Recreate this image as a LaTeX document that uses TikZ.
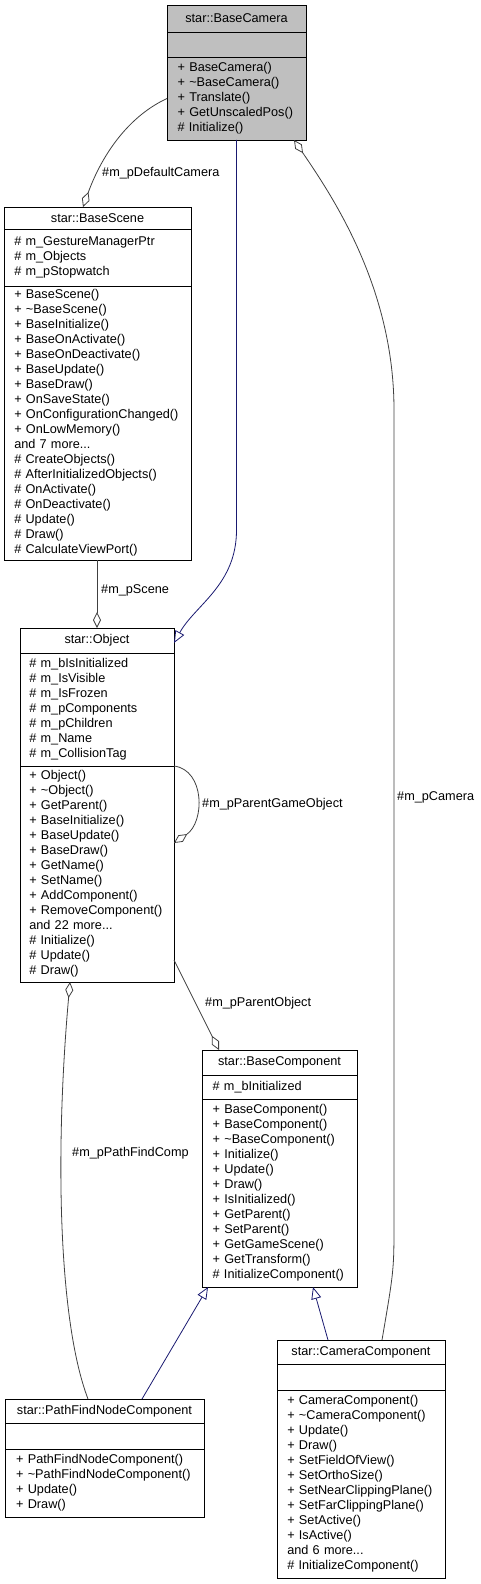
\documentclass[tikz,border=0pt]{standalone}
\usepackage{fontspec}
\setmainfont{Liberation Sans}
\usetikzlibrary{arrows.meta}
\definecolor{edgegrey}{HTML}{404040}
\definecolor{inhblue}{HTML}{191970}
\definecolor{boxgrey}{HTML}{BFBFBF}
\newcommand{\umlfont}{\fontsize{12.7}{15}\selectfont}
\newcommand{\tld}{\textasciitilde}
\newlength{\tmpw}
\newlength{\wBCam}\newlength{\wBS}\newlength{\wObj}\newlength{\wBCo}\newlength{\wPF}\newlength{\wCC}
\newcommand{\maxw}[2]{\settowidth{\tmpw}{\umlfont #2}\addtolength{\tmpw}{3pt}\ifdim\tmpw>#1\relax\global#1=\tmpw\relax\fi}
\begin{document}
\maxw{\wBCam}{+ GetUnscaledPos()}\maxw{\wBCam}{+ \tld BaseCamera()}%
\maxw{\wBS}{+ OnConfigurationChanged()}\maxw{\wBS}{\# AfterInitializedObjects()}\maxw{\wBS}{\# m\_GestureManagerPtr}%
\maxw{\wObj}{+ RemoveComponent()}\maxw{\wObj}{\# m\_bIsInitialized}\maxw{\wObj}{\# m\_CollisionTag}%
\maxw{\wBCo}{+ \tld BaseComponent()}\maxw{\wBCo}{\# InitializeComponent()}%
\maxw{\wPF}{+ \tld PathFindNodeComponent()}%
\maxw{\wCC}{+ SetNearClippingPlane()}\maxw{\wCC}{+ \tld CameraComponent()}\maxw{\wCC}{\# InitializeComponent()}%
\begin{tikzpicture}[x=1pt,y=-1pt,
  sec/.style={draw=black, line width=0.9pt, anchor=north west, inner sep=0pt, font=\umlfont, align=left, outer sep=0pt, minimum width=#1},
  ttl/.style={sec=#1, align=center},
  agg/.style={draw=edgegrey, line width=0.8pt, {Diamond[fill=white, length=16pt, width=8pt]}-},
  inh/.style={draw=inhblue, line width=0.8pt, -{Triangle[open, length=12pt, width=10pt]}},
  lbl/.style={font=\umlfont, anchor=west, inner sep=0pt}]
\useasboundingbox (0,0) rectangle (481,1584);
% BaseCamera
\node[ttl=139pt, fill=boxgrey, minimum height=27pt] (bcamT) at (167,5) {star::BaseCamera};
\node[sec=139pt, fill=boxgrey, minimum height=25pt, text width=\wBCam] (bcamA) at (bcamT.south west) {};
\node[sec=139pt, fill=boxgrey, minimum height=83pt, text width=\wBCam] (bcamM) at (bcamA.south west) {+ BaseCamera()\\+ \tld BaseCamera()\\+ Translate()\\+ GetUnscaledPos()\\\# Initialize()};
% BaseScene
\node[ttl=187pt, minimum height=22pt] (bsT) at (4,207) {star::BaseScene};
\node[sec=187pt, minimum height=57pt, text width=\wBS] (bsA) at (bsT.south west) {\# m\_GestureManagerPtr\\\# m\_Objects\\\# m\_pStopwatch};
\node[sec=187pt, minimum height=274pt, text width=\wBS] (bsM) at (bsA.south west) {+ BaseScene()\\+ \tld BaseScene()\\+ BaseInitialize()\\+ BaseOnActivate()\\+ BaseOnDeactivate()\\+ BaseUpdate()\\+ BaseDraw()\\+ OnSaveState()\\+ OnConfigurationChanged()\\+ OnLowMemory()\\and 7 more...\\\# CreateObjects()\\\# AfterInitializedObjects()\\\# OnActivate()\\\# OnDeactivate()\\\# Update()\\\# Draw()\\\# CalculateViewPort()};
% Object
\node[ttl=154pt, minimum height=25pt] (objT) at (20,628) {star::Object};
\node[sec=154pt, minimum height=113pt, text width=\wObj] (objA) at (objT.south west) {\# m\_bIsInitialized\\\# m\_IsVisible\\\# m\_IsFrozen\\\# m\_pComponents\\\# m\_pChildren\\\# m\_Name\\\# m\_CollisionTag};
\node[sec=154pt, minimum height=216pt, text width=\wObj] (objM) at (objA.south west) {+ Object()\\+ \tld Object()\\+ GetParent()\\+ BaseInitialize()\\+ BaseUpdate()\\+ BaseDraw()\\+ GetName()\\+ SetName()\\+ AddComponent()\\+ RemoveComponent()\\and 22 more...\\\# Initialize()\\\# Update()\\\# Draw()};
% BaseComponent
\node[ttl=155pt, minimum height=25pt] (bcoT) at (202,1050) {star::BaseComponent};
\node[sec=155pt, minimum height=24pt, text width=\wBCo] (bcoA) at (bcoT.south west) {\# m\_bInitialized};
\node[sec=155pt, minimum height=188pt, text width=\wBCo] (bcoM) at (bcoA.south west) {+ BaseComponent()\\+ BaseComponent()\\+ \tld BaseComponent()\\+ Initialize()\\+ Update()\\+ Draw()\\+ IsInitialized()\\+ GetParent()\\+ SetParent()\\+ GetGameScene()\\+ GetTransform()\\\# InitializeComponent()};
% PathFindNodeComponent
\node[ttl=199pt, minimum height=24pt] (pfT) at (5,1399) {star::PathFindNodeComponent};
\node[sec=199pt, minimum height=26pt, text width=\wPF] (pfA) at (pfT.south west) {};
\node[sec=199pt, minimum height=68pt, text width=\wPF] (pfM) at (pfA.south west) {+ PathFindNodeComponent()\\+ \tld PathFindNodeComponent()\\+ Update()\\+ Draw()};
% CameraComponent
\node[ttl=168pt, minimum height=24pt] (cmT) at (277,1340) {star::CameraComponent};
\node[sec=168pt, minimum height=26pt, text width=\wCC] (cmA) at (cmT.south west) {};
\node[sec=168pt, minimum height=188pt, text width=\wCC] (cmM) at (cmA.south west) {+ CameraComponent()\\+ \tld CameraComponent()\\+ Update()\\+ Draw()\\+ SetFieldOfView()\\+ SetOrthoSize()\\+ SetNearClippingPlane()\\+ SetFarClippingPlane()\\+ SetActive()\\+ IsActive()\\and 6 more...\\\# InitializeComponent()};
% edges
\draw[agg] ([xshift=79pt]bsT.north west) .. controls (100,160) and (125,118) .. (bcamM.west);
\node[lbl] (lDefCam) at (102,173) {\#m\_pDefaultCamera};
\draw[inh] (bcamM.south) -- (236.5,530) .. controls (236.5,585) and (195,605) .. ([yshift=-15pt]objT.north east);
\draw[agg] ([xshift=77pt]objT.north west) -- ([xshift=93pt]bsM.south west);
\node[lbl] (lScene) at (101,590) {\#m\_pScene};
\draw[agg] ([yshift=-77pt]objM.north east) .. controls (205,822) and (205,770) .. (objM.north east);
\node[lbl] (lParGO) at (202,804) {\#m\_pParentGameObject};
\draw[agg] ([xshift=17pt]bcoT.north west) -- ([yshift=-332pt]objT.north east);
\node[lbl] (lParObj) at (205,1003) {\#m\_pParentObject};
\draw[agg] ([xshift=50pt]objM.south west) .. controls (55,1150) and (58,1320) .. ([xshift=83pt]pfT.north west);
\node[lbl] (lPath) at (72,1153) {\#m\_pPathFindComp};
\draw[agg] ([xshift=127pt]bcamM.south west) .. controls (335,200) and (394,290) .. (394,410) -- (394,1220) .. controls (394,1270) .. ([xshift=105pt]cmT.north west);
\node[lbl] (lCam) at (397,797) {\#m\_pCamera};
\draw[inh] ([xshift=137pt]pfT.north west) -- ([xshift=6pt]bcoM.south west);
\draw[inh] ([xshift=51pt]cmT.north west) -- ([xshift=111pt]bcoM.south west);
\end{tikzpicture}
\end{document}
